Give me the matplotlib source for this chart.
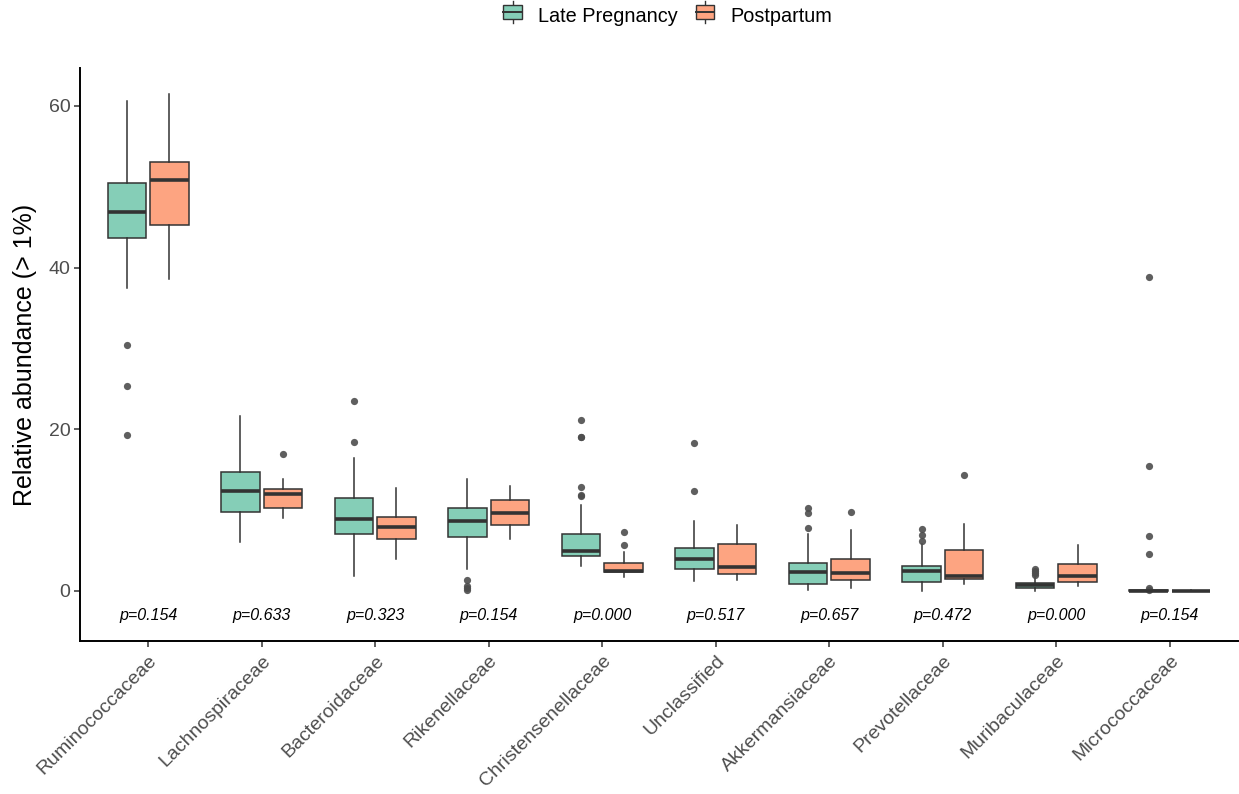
import matplotlib
matplotlib.use("Agg")
import matplotlib.pyplot as plt
from matplotlib.patches import Rectangle, Patch
from matplotlib.lines import Line2D
from matplotlib.legend_handler import HandlerBase

plt.rcParams['font.family'] = ['Liberation Sans', 'DejaVu Sans']

categorias = ['Ruminococcaceae', 'Lachnospiraceae', 'Bacteroidaceae', 'Rikenellaceae',
              'Christensenellaceae', 'Unclassified', 'Akkermansiaceae', 'Prevotellaceae',
              'Muribaculaceae', 'Micrococcaceae']
p_valores = ['p=0.154', 'p=0.633', 'p=0.323', 'p=0.154', 'p=0.000',
             'p=0.517', 'p=0.657', 'p=0.472', 'p=0.000', 'p=0.154']

# Late Pregnancy
late_lo  = [37.5, 6.1, 1.9, 2.7, 3.1, 1.2, 0.1, 0.0, 0.0, 0.0]
late_q1  = [43.7, 9.7, 7.0, 6.7, 4.3, 2.7, 0.9, 1.1, 0.3, 0.0]
late_med = [46.9, 12.4, 8.9, 8.6, 4.9, 3.9, 2.3, 2.4, 0.74, 0.0]
late_q3  = [50.5, 14.7, 11.5, 10.2, 7.1, 5.3, 3.5, 3.1, 1.0, 0.05]
late_hi  = [60.6, 21.6, 16.5, 13.9, 10.6, 8.7, 7.0, 5.8, 1.8, 0.1]
late_out = [[30.4, 25.4, 19.3], [], [23.5, 18.4], [1.3, 0.6, 0.3, 0.1],
            [21.1, 19.0, 19.1, 12.9, 11.7, 11.9], [18.3, 12.4], [10.3, 9.6, 7.8],
            [7.6, 6.9, 6.2], [2.7, 2.5, 2.2, 2.0], [38.9, 15.4, 6.8, 4.6, 0.3, 0.15]]

# Postpartum
post_lo  = [38.6, 9.0, 3.9, 6.4, 1.7, 1.3, 0.4, 0.9, 0.65, 0.0]
post_q1  = [45.3, 10.3, 6.4, 8.2, 2.3, 2.1, 1.4, 1.5, 1.1, 0.0]
post_med = [50.8, 12.0, 7.9, 9.6, 2.5, 3.0, 2.2, 1.8, 1.85, 0.0]
post_q3  = [53.1, 12.6, 9.2, 11.3, 3.5, 5.8, 3.9, 5.0, 3.3, 0.02]
post_hi  = [61.5, 13.8, 12.7, 13.0, 4.8, 8.1, 7.5, 8.3, 5.65, 0.05]
post_out = [[], [16.9], [], [], [7.3, 5.7], [], [9.7], [14.35], [], []]

cor_late = '#85CEB7'
cor_post = '#FDA481'
cor_linha = '#333333'


def monta_stats(lo, q1, med, q3, hi, out):
    return [dict(whislo=lo[i], q1=q1[i], med=med[i], q3=q3[i], whishi=hi[i], fliers=out[i])
            for i in range(len(lo))]


fig = plt.figure(figsize=(12.39, 7.94), dpi=100)
ax = fig.add_axes([80 / 1239, (794 - 641) / 794, (1238 - 80) / 1239, (641 - 68) / 794])

n = len(categorias)
largura = 0.3375
desloc = 0.1875

for stats, cor, d in [(monta_stats(late_lo, late_q1, late_med, late_q3, late_hi, late_out), cor_late, -desloc),
                      (monta_stats(post_lo, post_q1, post_med, post_q3, post_hi, post_out), cor_post, desloc)]:
    ax.bxp(stats, positions=[i + d for i in range(n)], widths=largura, patch_artist=True,
           showcaps=False,
           boxprops=dict(facecolor=cor, edgecolor=cor_linha, linewidth=1.1),
           medianprops=dict(color=cor_linha, linewidth=2.6, solid_capstyle='butt'),
           whiskerprops=dict(color=cor_linha, linewidth=1.1),
           flierprops=dict(marker='o', markerfacecolor='#4d4d4d', markeredgecolor='none',
                           markersize=5.2, alpha=0.9))

for i, p in enumerate(p_valores):
    ax.text(i, -3, p, ha='center', va='center', fontsize=11.5, style='italic', color='black')

ax.set_xlim(-0.6, n - 0.4)
ax.set_ylim(-6.2, 64.7)
ax.set_xticks(range(n))
ax.set_xticklabels(categorias, rotation=45, ha='right', va='top', rotation_mode='anchor',
                   fontsize=14, color='#4d4d4d')
ax.set_yticks([0, 20, 40, 60])
ax.tick_params(axis='y', labelsize=14, labelcolor='#4d4d4d', length=4, width=1.1, color='#333333', pad=3)
ax.tick_params(axis='x', length=4, width=1.1, color='#333333', pad=4)
ax.set_ylabel('Relative abundance (> 1%)', fontsize=18, color='black', labelpad=8)
for lado in ['top', 'right']:
    ax.spines[lado].set_visible(False)
for lado in ['left', 'bottom']:
    ax.spines[lado].set_linewidth(1.4)
    ax.spines[lado].set_color('black')


class ChaveBox(HandlerBase):
    def create_artists(self, legend, orig, xd, yd, w, h, fontsize, trans):
        fc = orig.get_facecolor()
        cx = xd + w / 2
        r = Rectangle((xd + w * 0.1, yd + h * 0.1), w * 0.8, h * 0.8, facecolor=fc,
                      edgecolor=cor_linha, linewidth=1.0, transform=trans)
        m = Line2D([xd + w * 0.1, xd + w * 0.9], [yd + h * 0.5] * 2, color=cor_linha, lw=1.4, transform=trans)
        w1 = Line2D([cx, cx], [yd + h * 0.9, yd + h * 1.15], color=cor_linha, lw=1.0, transform=trans)
        w2 = Line2D([cx, cx], [yd - h * 0.15, yd + h * 0.1], color=cor_linha, lw=1.0, transform=trans)
        return [w1, w2, r, m]


handles = [Patch(facecolor=cor_late), Patch(facecolor=cor_post)]
fig.legend(handles, ['Late Pregnancy', 'Postpartum'], loc='center', bbox_to_anchor=(0.538, 1 - 16 / 794),
           ncol=2, frameon=False, fontsize=14.3, handlelength=1.15, handleheight=0.9, handletextpad=0.7,
           columnspacing=0.8, handler_map={Patch: ChaveBox()})

fig.savefig('out.png', dpi=100)
